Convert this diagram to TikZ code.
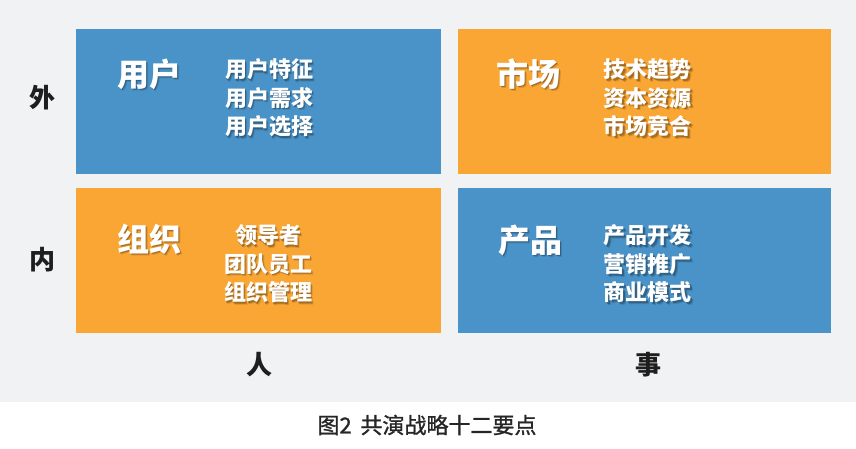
\documentclass[tikz,border=0pt]{standalone}
\usepackage{fontspec}
\setmainfont{Noto Sans CJK SC}
\newfontfamily\capfont{Noto Sans CJK SC}[FakeBold=1.2]
\definecolor{bgc}{HTML}{F1F2F4}
\definecolor{blueC}{HTML}{4A93C8}
\definecolor{orangeC}{HTML}{F9A634}
\definecolor{axisC}{HTML}{1E1E1E}
\definecolor{capC}{HTML}{262626}
\tikzset{
  quad/.style={fill=#1, draw=none, inner sep=0pt, anchor=north west,
    minimum width=365pt, minimum height=145pt},
  titlefont/.style={font=\fontsize{32}{36}\selectfont\bfseries},
  itemfont/.style={font=\fontsize{22}{28.5}\selectfont\bfseries, align=center},
  axislabel/.style={text=axisC, font=\fontsize{26}{30}\selectfont\bfseries},
}
\newcommand\shtext[4]{%
  \node[#3, text=black, opacity=0.12] at ([shift={(2.6,2.6)}]#2) {#4};
  \node[#3, text=black, opacity=0.25] at ([shift={(1.6,1.6)}]#2) {#4};
  \node[#3, text=white] (#1) at (#2) {#4};}
\begin{document}
\begin{tikzpicture}[x=1pt,y=-1pt]
\useasboundingbox (0,0) rectangle (856,449);
\fill[white] (0,0) rectangle (856,449);
\fill[bgc] (0,0) rectangle (856,402);
% quadrants
\node[quad=blueC] (ul) at (76,29) {};
\node[quad=orangeC, minimum width=373pt] (ur) at (458,29) {};
\node[quad=orangeC] (ll) at (76,188) {};
\node[quad=blueC, minimum width=373pt] (lr) at (458,188) {};
% titles
\shtext{t1}{149,74}{titlefont}{用户}
\shtext{t2}{528,74}{titlefont}{市场}
\shtext{t3}{149,239}{titlefont}{组织}
\shtext{t4}{530,240}{titlefont}{产品}
% items
\shtext{i1}{269,98}{itemfont}{用户特征\\用户需求\\用户选择}
\shtext{i2}{647.5,98}{itemfont}{技术趋势\\资本资源\\市场竞合}
\shtext{i3}{268,264}{itemfont}{领导者\\团队员工\\组织管理}
\shtext{i4}{647.5,264}{itemfont}{产品开发\\营销推广\\商业模式}
% axis labels
\node[axislabel] (outer) at (42,98) {外};
\node[axislabel] (inner) at (42,260) {内};
\node[axislabel] (people) at (259,365) {人};
\node[axislabel] (things) at (648,365) {事};
% caption
\node[text=capC, font=\fontsize{22}{24}\selectfont\capfont] (cap) at (427,425) {图2\hspace{0.4em}共演战略十二要点};
\end{tikzpicture}
\end{document}
